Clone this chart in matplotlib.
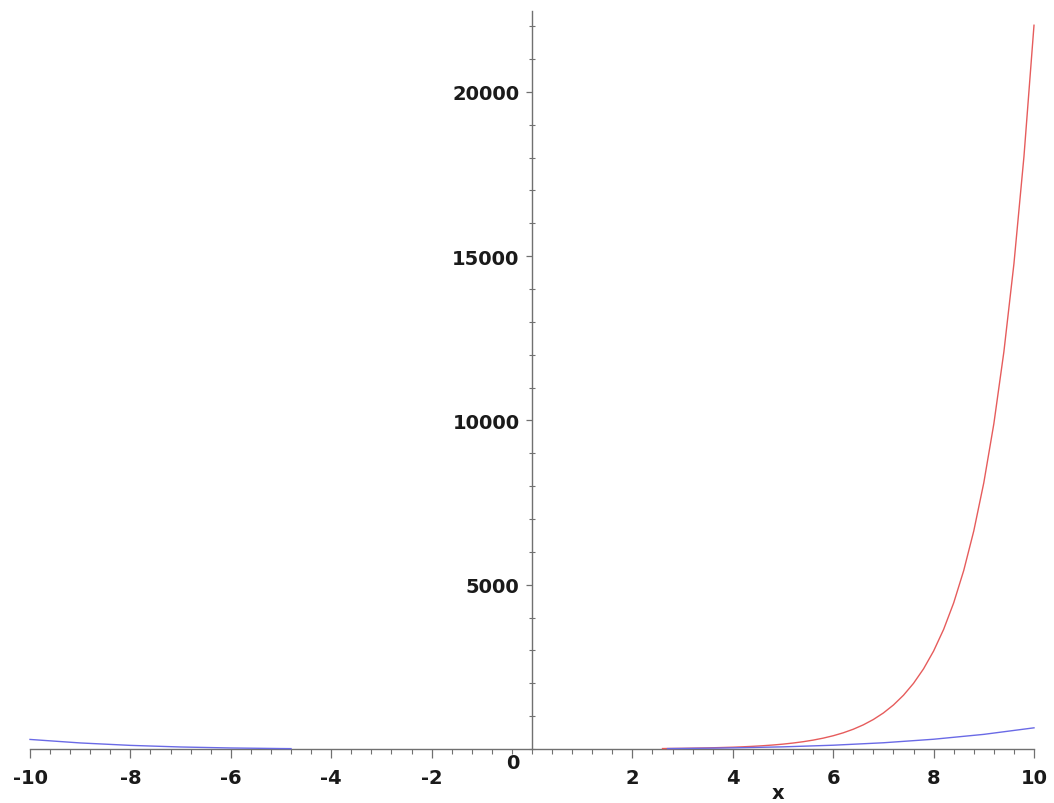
import matplotlib
matplotlib.use("Agg")
import matplotlib.pyplot as plt
from matplotlib.ticker import MultipleLocator, FixedLocator

# ---- data (only the parts visible above the view floor) ----
red_x = [2.6, 3, 3.5, 4,
         4.2, 4.4, 4.6, 4.8, 5.0, 5.2, 5.4, 5.6, 5.8, 6.0, 6.2, 6.4, 6.6, 6.8,
         7.0, 7.2, 7.4, 7.6, 7.8, 8.0, 8.2, 8.4, 8.6, 8.8, 9.0, 9.2, 9.4, 9.6, 9.8, 10.0]
red_y = [13.5, 20.1, 33.1, 54.6,
         66.7, 81.5, 99.5, 121.5, 148.4, 181.3, 221.4, 270.4, 330.3, 403.4, 492.7,
         601.8, 735.1, 897.8, 1096.6, 1339.4, 1636.0, 1998.2, 2440.6, 2981.0,
         3641.0, 4447.1, 5431.7, 6634.2, 8103.1, 9897.1, 12088.4, 14764.8,
         18033.7, 22026.5]

blue_left_x = [-10, -9, -8, -7, -6, -5, -4.8]
blue_left_y = [291.0, 184.4, 110.3, 61.4, 31.0, 13.7, 11.4]
blue_right_x = [2.7, 3, 4, 5, 6, 7, 8, 9, 10]
blue_right_y = [12.8, 16.4, 34.3, 65.4, 115.0, 189.7, 297.0, 445.4, 644.3]

y_major_ticks = [5000, 10000, 15000, 20000]
y_major_labels = ["5000", "10000", "15000", "20000"]
x_major_ticks = [-10, -8, -6, -4, -2, 2, 4, 6, 8, 10]
x_major_labels = ["-10", "-8", "-6", "-4", "-2", "2", "4", "6", "8", "10"]

W, H = 1054, 804
fig = plt.figure(figsize=(W / 100, H / 100), dpi=100)
left_px, right_px, bottom_px, top_px = 30, 1034, 750, 12
ax = fig.add_axes([left_px / W, (H - bottom_px) / H,
                   (right_px - left_px) / W, (bottom_px - top_px) / H])

axis_col = "#707070"
text_col = "#1a1a1a"
red_col = "#e65c5c"
blue_col = "#6a6ae6"
ax.plot(red_x, red_y, color=red_col, lw=1.0, zorder=4, clip_on=False)
ax.plot(blue_left_x, blue_left_y, color=blue_col, lw=1.0, zorder=4, clip_on=False)
ax.plot(blue_right_x, blue_right_y, color=blue_col, lw=1.0, zorder=4, clip_on=False)

ax.set_xlim(-10, 10)
ax.set_ylim(0, 22460)

for s in ["top", "right"]:
    ax.spines[s].set_visible(False)
ax.spines["left"].set_position(("data", 0))
ax.spines["bottom"].set_position(("data", 0))
for s in ["left", "bottom"]:
    ax.spines[s].set_color(axis_col)
    ax.spines[s].set_linewidth(1.0)
    ax.spines[s].set_zorder(3)

ax.xaxis.set_major_locator(FixedLocator(x_major_ticks))
ax.set_xticklabels(x_major_labels)
ax.xaxis.set_minor_locator(MultipleLocator(0.4))
ax.yaxis.set_major_locator(FixedLocator(y_major_ticks))
ax.set_yticklabels(y_major_labels)
ax.yaxis.set_minor_locator(MultipleLocator(1000))

ax.tick_params(axis="x", which="major", direction="out", length=6.5,
               width=0.9, color=axis_col, labelsize=14, labelcolor=text_col, pad=7)
ax.tick_params(axis="x", which="minor", direction="out", length=3.5,
               width=0.8, color=axis_col)
ax.tick_params(axis="y", which="major", direction="out", length=4,
               width=0.9, color=axis_col, labelsize=14, labelcolor=text_col, pad=5)
ax.tick_params(axis="y", which="minor", direction="inout", length=4,
               width=0.8, color=axis_col)
for lab in ax.get_xticklabels() + ax.get_yticklabels():
    lab.set_fontweight("bold")

ax.annotate("0", xy=(0, 0), xycoords="data", xytext=(-14, -10),
            textcoords="offset points", ha="center", va="center",
            fontsize=14, fontweight="bold", color=text_col)
ax.annotate("x", xy=(4.9, 0), xycoords="data", xytext=(0, -31),
            textcoords="offset points", ha="center", va="center",
            fontsize=14, fontweight="bold", color=text_col)

ax.set_facecolor("white")
fig.patch.set_facecolor("white")
fig.savefig("out.png", dpi=100)
